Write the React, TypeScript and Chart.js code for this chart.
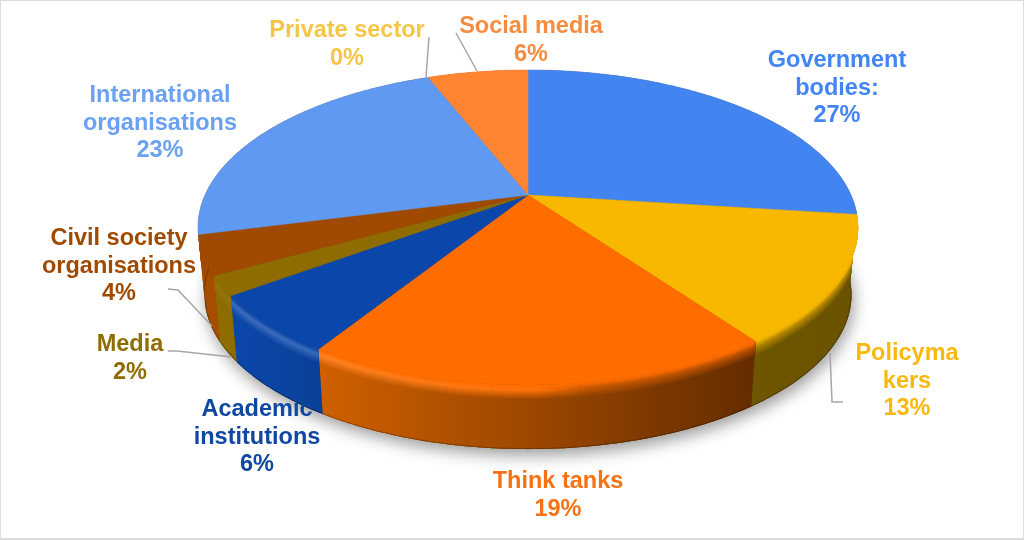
import React, { useEffect, useRef } from "react";
import { Chart, registerables } from "chart.js";

Chart.register(...registerables);

const categories = ["Government bodies:", "Policymakers", "Think tanks", "Academic institutions", "Media", "Civil society organisations", "International organisations", "Private sector", "Social media"];
const shares = [27, 13, 19, 6, 2, 4, 23, 0, 6];
const labelLines = [
  ["Government", "bodies:", "27%"],
  ["Policyma", "kers", "13%"],
  ["Think tanks", "19%"],
  ["Academic", "institutions", "6%"],
  ["Media", "2%"],
  ["Civil society", "organisations", "4%"],
  ["International", "organisations", "23%"],
  ["Private sector", "0%"],
  ["Social media", "6%"],
];

const faceColors = ["#4285F0", "#F9B800", "#FF6D00", "#0B47AB", "#8F6C00", "#9F4A00", "#6099F2", "#F6C546", "#FF8533"];
const wallLeft = ["#5A4F20", "#6E5500", "#D06000", "#0B47AB", "#8F6C00", "#A04A00", "#A04A00", "#A8862C", "#B05A20"];
const wallRight = ["#5A4F20", "#6A5200", "#642C00", "#0A4099", "#8F6C00", "#A84E00", "#A04A00", "#A8862C", "#B05A20"];
const textColors = ["#4285F4", "#F9B90C", "#F57215", "#0F47A1", "#8F6C00", "#A04A00", "#6BA1F3", "#F6C546", "#F78C3F"];
const highlightGain = [0, 0, 0.16, 0.2, 0.05, 0, 0, 0, 0];

const labelCenterX = [837, 907, 558, 257, 130, 119, 160, 347, 531];
const labelFirstY = [61, 354, 482, 410, 345, 239, 96, 31, 27];
const labelLineGap = 27.2;
const leaderLines = [
  [[429, 37], [426, 77]],
  [[456, 33], [477, 71]],
  [[830, 353], [832, 402], [843, 402]],
  [[168, 351], [177, 351], [232, 357]],
  [[168, 289], [178, 290], [212, 326]],
];

const CX = 528, CY = 195, A = 323, B = 150.8, K = 0.206, DEPTH = 68, BOTTOM_SCALE = 0.98, BEVEL = 14;

function project(angle: number, bottom: boolean): [number, number] {
  const x = Math.cos(angle), y = Math.sin(angle);
  const w = 1 - K * y;
  const s = bottom ? BOTTOM_SCALE : 1;
  return [CX + (s * A * x) / w, CY + (bottom ? DEPTH : 0) + (s * B * y) / w];
}
function rgb(h: string) {
  return [1, 3, 5].map((i) => parseInt(h.slice(i, i + 2), 16));
}
function mix(a: string, b: string, t: number) {
  const p = rgb(a), q = rgb(b);
  return "#" + p.map((v, i) => Math.round(v + (q[i] - v) * t).toString(16).padStart(2, "0")).join("");
}

function rim(start: number, end: number, bottom: boolean) {
  const n = Math.max(2, Math.ceil(((end - start) * 180) / Math.PI) * 2);
  const pts: [number, number][] = [];
  for (let j = 0; j <= n; j++) pts.push(project(start + ((end - start) * j) / n, bottom));
  return pts;
}

const pie3d = {
  id: "pie3d",
  beforeDraw(chart: any) {
    const ctx = chart.ctx;
    ctx.save();
    ctx.fillStyle = "#FFFFFF";
    ctx.fillRect(0, 0, 1024, 540);
    ctx.strokeStyle = "#DCDCDC";
    ctx.lineWidth = 2;
    ctx.strokeRect(0, 0, 1024, 539);
    ctx.restore();
  },
  beforeDatasetDraw(chart: any) {
    const ctx = chart.ctx as CanvasRenderingContext2D;
    const arcs = chart.getDatasetMeta(0).data as any[];
    ctx.save();
    // soft shadow under the bottom rim
    ctx.save();
    ctx.shadowColor = "rgba(0,0,0,0.4)";
    ctx.shadowBlur = 16;
    ctx.shadowOffsetY = 6;
    ctx.shadowOffsetX = 2;
    ctx.fillStyle = "#6A5200";
    ctx.beginPath();
    rim(0, Math.PI * 2, true).forEach((p, i) => (i ? ctx.lineTo(p[0], p[1]) : ctx.moveTo(p[0], p[1])));
    ctx.closePath();
    ctx.fill();
    ctx.restore();
    // side walls
    arcs.forEach((arc, i) => {
      const s = arc.startAngle, e = arc.endAngle;
      if (e - s <= 0) return;
      const top = rim(s, e, false);
      const bot = rim(s, e, true);
      const xs = [project(s, false)[0], project(e, false)[0]];
      const midSin = Math.sin((s + e) / 2);
      top.filter((p) => p[1] > CY).forEach((p) => xs.push(p[0]));
      const xMin = Math.min(...xs), xMax = Math.max(...xs) + 0.01;
      const ramp = (fn: (wall: string, x: number) => string) => {
        const g = ctx.createLinearGradient(xMin, 0, xMax, 0);
        for (let q = 0; q <= 8; q++) {
          const x = xMin + ((xMax - xMin) * q) / 8;
          g.addColorStop(q / 8, fn(mix(wallLeft[i], wallRight[i], q / 8), x));
        }
        return g;
      };
      ctx.save();
      ctx.beginPath();
      top.forEach((p, j) => (j ? ctx.lineTo(p[0], p[1]) : ctx.moveTo(p[0], p[1])));
      for (let j = bot.length - 1; j >= 0; j--) ctx.lineTo(bot[j][0], bot[j][1]);
      ctx.closePath();
      ctx.fillStyle = ramp((w) => w);
      ctx.fill();
      ctx.clip();
      // dark foot of the wall
      ctx.beginPath();
      bot.forEach((p, j) => (j ? ctx.lineTo(p[0], p[1]) : ctx.moveTo(p[0], p[1])));
      ctx.strokeStyle = ramp((w) => mix(w, "#000000", 0.25));
      ctx.lineWidth = 2;
      ctx.stroke();
      // rounded edge between the face and the wall
      if (midSin > 0) {
        const face = faceColors[i];
        ctx.lineWidth = 1.6;
        for (let k = BEVEL; k >= 0; k--) {
          const t = k / BEVEL;
          ctx.beginPath();
          top.forEach((p, j) => (j ? ctx.lineTo(p[0], p[1] + k) : ctx.moveTo(p[0], p[1] + k)));
          ctx.strokeStyle = ramp((w, x) => {
            const left = Math.min(1, Math.max(0, (CX + 60 - x) / 300));
            const hl = left > 0 && highlightGain[i] > 0 ? mix(face, "#FFFFFF", highlightGain[i] * left) : mix(face, w, 0.5);
            return t < 0.35 ? mix(face, hl, t / 0.35) : mix(hl, w, (t - 0.35) / 0.65);
          });
          ctx.stroke();
        }
      }
      ctx.restore();
    });
    // top faces
    arcs.forEach((arc, i) => {
      const s = arc.startAngle, e = arc.endAngle;
      if (e - s <= 0) return;
      ctx.beginPath();
      ctx.moveTo(CX, CY);
      rim(s, e, false).forEach((p) => ctx.lineTo(p[0], p[1]));
      ctx.closePath();
      ctx.fillStyle = faceColors[i];
      ctx.strokeStyle = faceColors[i];
      ctx.lineWidth = 0.5;
      ctx.fill();
      ctx.stroke();
    });
    ctx.restore();
    return false;
  },
  afterDatasetsDraw(chart: any) {
    const ctx = chart.ctx as CanvasRenderingContext2D;
    ctx.save();
    ctx.strokeStyle = "#A6A6A6";
    ctx.lineWidth = 1.5;
    leaderLines.forEach((line) => {
      ctx.beginPath();
      line.forEach((p, i) => (i ? ctx.lineTo(p[0], p[1]) : ctx.moveTo(p[0], p[1])));
      ctx.stroke();
    });
    ctx.font = 'bold 23.5px "Liberation Sans", Arial, sans-serif';
    ctx.textAlign = "center";
    ctx.textBaseline = "middle";
    labelLines.forEach((lines, i) => {
      ctx.fillStyle = textColors[i];
      lines.forEach((t, j) => ctx.fillText(t, labelCenterX[i], labelFirstY[i] + j * labelLineGap));
    });
    ctx.restore();
  },
};

export default function App() {
  const ref = useRef<HTMLCanvasElement>(null);
  useEffect(() => {
    document.body.style.margin = "0";
    const chart = new Chart(ref.current!, {
      type: "pie",
      data: {
        labels: categories,
        datasets: [{ data: shares, backgroundColor: faceColors, borderWidth: 0 }],
      },
      options: {
        responsive: false,
        animation: false,
        plugins: { legend: { display: false }, tooltip: { enabled: false } },
      },
      plugins: [pie3d],
    } as any);
    return () => chart.destroy();
  }, []);
  return <canvas ref={ref} width={1024} height={540} style={{ display: "block" }} />;
}
